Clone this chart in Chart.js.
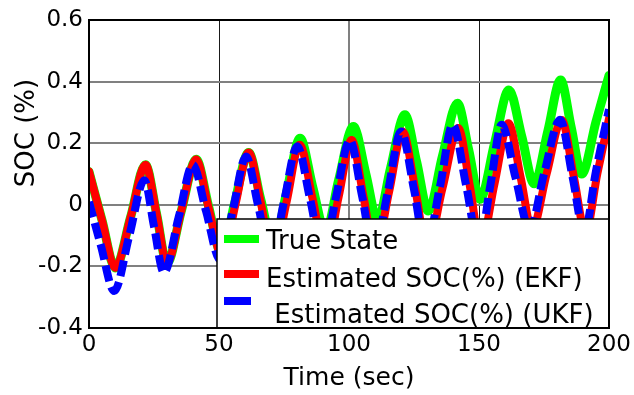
<!DOCTYPE html>
<html>
<head>
<meta charset="utf-8">
<script src="https://cdn.jsdelivr.net/npm/chart.js@4"></script>
<style>
  html, body { margin: 0; padding: 0; background: #fff; }
  #soc { display: block; }
</style>
</head>
<body>
<canvas id="soc" width="634" height="395"></canvas>
<script>
// axis ticks
const xTicks = [0, 50, 100, 150, 200];
const yTicks = [-0.4, -0.2, 0, 0.2, 0.4, 0.6];

// true state of charge (peaks, troughs and mid crossings)
const trueTime = [0, 5, 10.1, 16, 21.7, 26, 30, 35.5, 41.2, 46, 51, 56, 61.4, 66, 71, 76, 81.2, 86, 91, 96,
  101.7, 106.5, 111, 116, 121.5, 126, 130.5, 136, 141.7, 146, 150.4, 156, 161.5, 166.5, 171.2, 176.5, 181.4, 185.5, 189.5, 195, 200];
const trueSoc = [0.108, -0.05, -0.205, -0.04, 0.13, -0.03, -0.19, -0.02, 0.148, -0.005, -0.16, 0.005, 0.17, 0.02, -0.13, 0.04, 0.216, 0.06, -0.09, 0.08,
  0.254, 0.10, -0.05, 0.12, 0.292, 0.14, -0.02, 0.16, 0.33, 0.18, 0.018, 0.2, 0.373, 0.22, 0.068, 0.24, 0.405, 0.25, 0.10, 0.27, 0.42];

// EKF estimate
const ekfTime = [0, 5, 10.1, 16, 21.7, 26, 30, 35.5, 41.2, 46, 51.3, 56.3, 61.4, 66, 70.7, 76, 81, 86, 91, 96,
  101, 105.5, 110, 115.5, 120.6, 125.5, 130, 136, 142, 146.5, 150.6, 156, 161.3, 166, 170.4, 176, 181.8, 186.5, 191, 195.5, 200];
const ekfSoc = [0.108, -0.05, -0.205, -0.04, 0.13, -0.03, -0.19, -0.02, 0.148, -0.01, -0.17, 0.0, 0.17, 0.01, -0.17, 0.01, 0.195, 0.02, -0.16, 0.025,
  0.21, 0.03, -0.15, 0.045, 0.238, 0.05, -0.14, 0.055, 0.249, 0.06, -0.13, 0.07, 0.265, 0.09, -0.08, 0.1, 0.275, 0.09, -0.09, 0.1, 0.28];

// UKF estimate
const ukfTime = [0, 4.5, 9.7, 15.5, 21.3, 25, 28.8, 34.5, 39.9, 45, 50.5, 55.5, 60.4, 65, 70, 75, 80.1, 85, 90, 95,
  100.3, 105, 109.5, 115, 120, 125, 129.5, 135, 139.9, 145, 150, 154.5, 158.7, 164, 169.5, 175, 181.2, 186, 190.5, 195, 200];
const ukfSoc = [0.01, -0.13, -0.28, -0.1, 0.08, -0.07, -0.22, -0.04, 0.13, -0.02, -0.18, -0.01, 0.157, 0.0, -0.17, 0.01, 0.19, 0.02, -0.16, 0.025,
  0.21, 0.03, -0.15, 0.045, 0.238, 0.05, -0.14, 0.06, 0.26, 0.065, -0.13, 0.07, 0.26, 0.09, -0.08, 0.1, 0.276, 0.09, -0.09, 0.11, 0.31];

const pts = (t, v) => t.map((x, i) => ({ x: x, y: v[i] }));

Chart.defaults.font.family = "'DejaVu Sans', sans-serif";
Chart.defaults.color = '#000';

// frame, boxed key in the lower right corner and rotated y title
const frameAndKey = {
  id: 'frameAndKey',
  afterDatasetsDraw(chart) {
    const { ctx, chartArea: a } = chart;
    const bx = a.right - 392, by = a.bottom - 109;
    ctx.save();
    ctx.fillStyle = '#fff';
    ctx.fillRect(bx, by, a.right - bx, a.bottom - by);
    ctx.strokeStyle = '#000';
    ctx.lineWidth = 1.5;
    ctx.strokeRect(bx, by, a.right - bx, a.bottom - by);

    const lineY = [20, 55, 82];
    const textY = [30, 68, 104];
    ctx.font = "26px 'DejaVu Sans'";
    ctx.textBaseline = 'alphabetic';
    ctx.textAlign = 'left';
    chart.data.datasets.forEach((ds, i) => {
      ctx.beginPath();
      ctx.strokeStyle = ds.borderColor;
      ctx.lineWidth = 8;
      ctx.lineCap = 'butt';
      ctx.moveTo(bx + 7, by + lineY[i]);
      ctx.lineTo(bx + (ds.borderDash ? 34 : 42), by + lineY[i]);
      ctx.stroke();
      ctx.fillStyle = '#000';
      ctx.fillText(ds.label, bx + 49, by + textY[i]);
    });
    ctx.restore();
  },
  afterDraw(chart) {
    const { ctx, chartArea: a } = chart;
    ctx.save();
    ctx.strokeStyle = '#000';
    ctx.lineWidth = 2;
    ctx.strokeRect(a.left, a.top, a.right - a.left, a.bottom - a.top);
    ctx.translate(27.5, 133);
    ctx.rotate(-Math.PI / 2);
    ctx.font = "26px 'DejaVu Sans'";
    ctx.fillStyle = '#000';
    ctx.textAlign = 'center';
    ctx.textBaseline = 'middle';
    ctx.fillText('SOC (%)', 0, 0);
    ctx.restore();
  }
};

new Chart(document.getElementById('soc'), {
  type: 'line',
  plugins: [frameAndKey],
  data: {
    datasets: [
      {
        label: 'True State',
        data: pts(trueTime, trueSoc),
        borderColor: '#00ff00',
        borderWidth: 9,
        order: 3
      },
      {
        label: 'Estimated SOC(%) (EKF)',
        data: pts(ekfTime, ekfSoc),
        borderColor: '#ff0000',
        borderWidth: 8,
        order: 2
      },
      {
        label: ' Estimated SOC(%) (UKF)',
        data: pts(ukfTime, ukfSoc),
        borderColor: '#0000ff',
        borderWidth: 8,
        borderDash: [16, 6],
        borderCapStyle: 'butt',
        order: 1
      }
    ]
  },
  options: {
    responsive: false,
    animation: false,
    devicePixelRatio: 1,
    layout: { padding: { top: 20, right: 25, left: 0, bottom: 0 } },
    elements: {
      point: { radius: 0 },
      line: { cubicInterpolationMode: 'monotone', borderJoinStyle: 'round', borderCapStyle: 'round', fill: false }
    },
    plugins: {
      legend: { display: false },
      tooltip: { enabled: false }
    },
    scales: {
      x: {
        type: 'linear',
        min: 0,
        max: 200,
        afterBuildTicks: s => { s.ticks = xTicks.map(v => ({ value: v })); },
        afterFit: s => { s.height = 67; },
        ticks: { font: { size: 23 }, padding: 3, callback: v => String(v), maxRotation: 0 },
        grid: {
          drawTicks: false,
          color: c => (c.tick && c.tick.value === 100 ? '#808080' : '#1a1a1a'),
          lineWidth: c => (c.tick && c.tick.value === 100 ? 2 : 1)
        },
        border: { display: false },
        title: { display: true, text: 'Time (sec)', font: { size: 25 }, padding: { top: 0, bottom: 2 } }
      },
      y: {
        type: 'linear',
        min: -0.4,
        max: 0.6,
        afterBuildTicks: s => { s.ticks = yTicks.map(v => ({ value: v })); },
        afterFit: s => { s.width = 89; },
        ticks: { font: { size: 23 }, padding: 6, callback: v => String(v) },
        grid: { drawTicks: false, color: '#808080', lineWidth: 2 },
        border: { display: false }
      }
    }
  }
});
</script>
</body>
</html>
